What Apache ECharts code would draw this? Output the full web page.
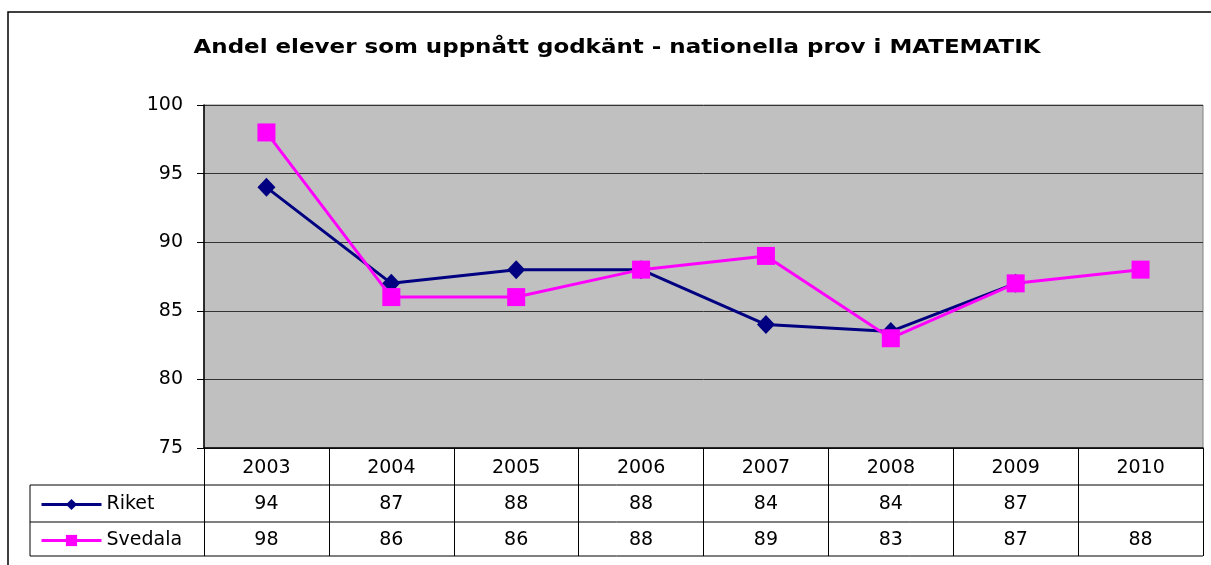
<!DOCTYPE html>
<html>
<head>
<meta charset="utf-8">
<script src="https://cdn.jsdelivr.net/npm/echarts@6/dist/echarts.min.js"></script>
<style>
  html, body { margin: 0; padding: 0; background: #fff; }
  #chart { width: 1211px; height: 565px; }
</style>
</head>
<body>
<div id="chart"></div>
<script>
/* ---------------- Data ---------------- */
const years = ["2003", "2004", "2005", "2006", "2007", "2008", "2009", "2010"];
const riket = [94, 87, 88, 88, 84, 83.5, 87, null];
const svedala = [98, 86, 86, 88, 89, 83, 87, 88];
const yTicks = { min: 75, max: 100, step: 5 };
const titleText = "Andel elever som uppnått godkänt - nationella prov i MATEMATIK";

/* ---------------- Layout ---------------- */
const FONT = "DejaVu Sans";
const GRID = { left: 204, top: 105, right: 8, bottom: 117 };
const ROW_H = 37;
const TABLE_LEFT = 30;
const axisY = 565 - GRID.bottom;          // 448
const plotRight = 1211 - GRID.right;      // 1203
const tableBottom = axisY + ROW_H * 3 - 3;

const fmt = arr => arr.map(v => (v == null ? "" : String(Math.round(v))));

const tableAxis = (labels, offset) => ({
  type: "category",
  data: labels,
  position: "bottom",
  offset: offset,
  axisLine: { show: false },
  axisTick: { show: false },
  axisLabel: { fontFamily: FONT, fontSize: 19, color: "#000", margin: 10 }
});

const legendRow = (name, top) => ({
  data: [name],
  left: 35,
  top: top,
  itemWidth: 60,
  itemHeight: 14,
  lineStyle: { width: 3 },
  textStyle: { fontFamily: FONT, fontSize: 19, color: "#000" }
});

const chart = echarts.init(document.getElementById("chart"));

const hLine = y => ({
  type: "line",
  shape: { x1: TABLE_LEFT, y1: y, x2: plotRight, y2: y },
  style: { stroke: "#000", lineWidth: 1 }
});

// title text is stretched a little to match the wide original lettering
const titleStyle = { fontFamily: FONT, fontSize: 19, fontWeight: "bold" };
const titleWidth = echarts.format.getTextRect
  ? echarts.format.getTextRect(titleText, "bold 19px " + FONT).width
  : 700;

const option = {
  animation: false,
  backgroundColor: "#fff",
  grid: {
    left: GRID.left,
    top: GRID.top,
    right: GRID.right,
    bottom: GRID.bottom,
    show: true,
    backgroundColor: "#C0C0C0",
    borderColor: "#808080",
    borderWidth: 1
  },
  legend: [
    legendRow("Riket", axisY + ROW_H + 5),
    legendRow("Svedala", axisY + ROW_H * 2 + 4)
  ],
  xAxis: [
    {
      type: "category",
      data: years,
      boundaryGap: true,
      axisLine: { show: true, lineStyle: { color: "#000", width: 1.5 } },
      axisTick: {
        show: true,
        length: tableBottom - axisY,
        lineStyle: { color: "#000", width: 1 }
      },
      axisLabel: { fontFamily: FONT, fontSize: 19, color: "#000", margin: 11 },
      splitLine: { show: false }
    },
    tableAxis(fmt(riket), ROW_H),
    tableAxis(fmt(svedala), ROW_H * 2 - 1)
  ],
  yAxis: {
    type: "value",
    min: yTicks.min,
    max: yTicks.max,
    interval: yTicks.step,
    axisLine: { show: true, lineStyle: { color: "#000", width: 1.5 } },
    axisTick: { show: true, length: 7, lineStyle: { color: "#000" } },
    axisLabel: { fontFamily: FONT, fontSize: 19, color: "#000", margin: 21 },
    splitLine: { show: true, lineStyle: { color: "#333", width: 1 } }
  },
  series: [
    {
      name: "Riket",
      type: "line",
      data: riket,
      color: "#000080",
      symbol: "diamond",
      symbolSize: [18, 19],
      lineStyle: { width: 3, color: "#000080" },
      itemStyle: { color: "#000080" }
    },
    {
      name: "Svedala",
      type: "line",
      data: svedala,
      color: "#FF00FF",
      symbol: "rect",
      symbolSize: 18,
      lineStyle: { width: 3, color: "#FF00FF" },
      itemStyle: { color: "#FF00FF" }
    }
  ],
  graphic: [
    {
      type: "rect",
      shape: { x: 8, y: 12, width: 1400, height: 800 },
      style: { fill: "none", stroke: "#000", lineWidth: 1.5 },
      z: -1
    },
    {
      type: "text",
      x: 617,
      y: 48,
      scaleX: 847 / titleWidth,
      style: Object.assign({
        text: titleText,
        fill: "#000",
        align: "center",
        verticalAlign: "middle"
      }, titleStyle)
    },
    hLine(axisY + ROW_H),
    hLine(axisY + ROW_H * 2),
    hLine(tableBottom),
    {
      type: "line",
      shape: { x1: TABLE_LEFT, y1: axisY + ROW_H, x2: TABLE_LEFT, y2: tableBottom },
      style: { stroke: "#000", lineWidth: 1 }
    }
  ]
};

chart.setOption(option);
</script>
</body>
</html>
